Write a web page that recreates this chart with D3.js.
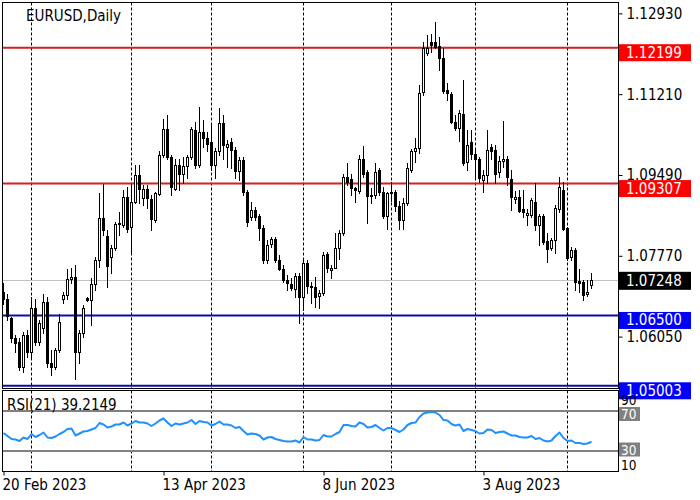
<!DOCTYPE html>
<html><head><meta charset="utf-8">
<script src="https://cdn.jsdelivr.net/npm/d3@7"></script>
<style>
body{margin:0;background:#fff}
svg{display:block}
text{font-family:"DejaVu Sans Condensed","DejaVu Sans",sans-serif;font-size:15px}
text.small{font-size:13.5px}
</style>
</head><body>
<svg id="c" width="700" height="500"></svg>
<script>
const chartTitle = "EURUSD,Daily";
const rsiTitle = "RSI(21) 39.2149";

const opens = [
1.0700,1.0686,1.0644,1.0603,1.0594,1.0541,1.0608,1.0573,1.0665,1.0594,
1.0623,1.0678,1.0548,1.0541,1.0576,1.0684,1.0693,1.0727,1.0731,1.0573,
1.0612,1.0687,1.0682,1.0718,1.0767,1.0858,1.0820,1.0774,1.0794,1.0844,
1.0843,1.0903,1.0839,1.0891,1.0949,1.0901,1.0919,1.0898,1.0853,1.0909,
1.0992,1.1046,1.0988,1.0920,1.0970,1.0952,1.0968,1.0988,1.1045,1.0970,
1.1041,1.1027,1.1020,1.0970,1.0999,1.1059,1.1009,1.1020,1.1002,1.0957,
1.0981,1.0913,1.0859,1.0874,1.0862,1.0837,1.0769,1.0803,1.0812,1.0769,
1.0748,1.0725,1.0718,1.0706,1.0734,1.0690,1.0761,1.0713,1.0711,1.0691,
1.0697,1.0781,1.0747,1.0752,1.0793,1.0825,1.0944,1.0940,1.0921,1.0914,
1.0984,1.0956,1.0904,1.0906,1.0960,1.0913,1.0862,1.0910,1.0912,1.0882,
1.0853,1.0890,1.0960,1.0999,1.1006,1.1126,1.1208,1.1233,1.1233,1.1224,
1.1199,1.1130,1.1121,1.1062,1.1050,1.1079,1.0977,1.1020,1.0993,1.0983,
1.0938,1.0949,1.1009,1.1002,1.0955,1.0978,1.0982,1.0940,1.0897,1.0903,
1.0876,1.0864,1.0864,1.0892,1.0843,1.0862,1.0808,1.0793,1.0811,1.0876,
1.0918,1.0837,1.0775,1.0789,1.0724,1.0722,1.0696,1.0715];

const highs = [
1.0720,1.0695,1.0647,1.0608,1.0601,1.0615,1.0619,1.0690,1.0686,1.0640,
1.0696,1.0690,1.0576,1.0580,1.0654,1.0700,1.0748,1.0750,1.0757,1.0619,
1.0672,1.0690,1.0729,1.0774,1.0911,1.0930,1.0832,1.0800,1.0849,1.0871,
1.0917,1.0924,1.0928,1.0970,1.0970,1.0927,1.0927,1.0906,1.0913,1.1000,
1.1068,1.1077,1.0991,1.0984,1.0984,1.0988,1.0991,1.1052,1.1062,1.1094,
1.1066,1.1041,1.1055,1.1006,1.1091,1.1077,1.1023,1.1027,1.1009,1.0988,
1.0988,1.0917,1.0892,1.0881,1.0867,1.0842,1.0810,1.0816,1.0817,1.0778,
1.0757,1.0736,1.0729,1.0740,1.0740,1.0768,1.0768,1.0721,1.0732,1.0704,
1.0786,1.0786,1.0757,1.0825,1.0832,1.0952,1.0974,1.0952,1.0924,1.0991,
1.1011,1.0960,1.0921,1.0975,1.0963,1.0924,1.0913,1.0935,1.0918,1.0893,
1.0900,1.0975,1.1005,1.1027,1.1141,1.1233,1.1247,1.1250,1.1275,1.1243,
1.1219,1.1144,1.1126,1.1077,1.1087,1.1151,1.1045,1.1045,1.1002,1.0988,
1.0959,1.1045,1.1016,1.1013,1.0990,1.1064,1.0990,1.0960,1.0915,1.0917,
1.0917,1.0877,1.0899,1.0931,1.0867,1.0867,1.0825,1.0814,1.0885,1.0945,
1.0935,1.0839,1.0795,1.0793,1.0748,1.0725,1.0725,1.0740];

const lows = [
1.0675,1.0640,1.0594,1.0573,1.0534,1.0530,1.0562,1.0559,1.0587,1.0587,
1.0612,1.0541,1.0523,1.0535,1.0573,1.0677,1.0686,1.0719,1.0514,1.0548,
1.0605,1.0680,1.0630,1.0704,1.0754,1.0821,1.0711,1.0740,1.0789,1.0821,
1.0839,1.0828,1.0786,1.0889,1.0889,1.0885,1.0878,1.0832,1.0849,1.0907,
1.0988,1.0984,1.0906,1.0917,1.0917,1.0931,1.0942,1.0984,1.0963,1.0967,
1.1009,1.0999,1.0960,1.0942,1.0991,1.0984,1.0967,1.0963,1.0942,1.0938,
1.0906,1.0840,1.0853,1.0853,1.0810,1.0762,1.0761,1.0796,1.0764,1.0747,
1.0722,1.0704,1.0704,1.0690,1.0633,1.0661,1.0697,1.0676,1.0669,1.0665,
1.0693,1.0743,1.0729,1.0750,1.0771,1.0821,1.0928,1.0906,1.0892,1.0910,
1.0945,1.0846,1.0889,1.0899,1.0906,1.0857,1.0835,1.0893,1.0872,1.0833,
1.0835,1.0885,1.0956,1.0977,1.0995,1.1120,1.1204,1.1211,1.1219,1.1173,
1.1123,1.1109,1.1059,1.1045,1.1022,1.0970,1.0959,1.0984,1.0942,1.0935,
1.0913,1.0931,1.0984,1.0931,1.0945,1.0965,1.0928,1.0875,1.0890,1.0871,
1.0860,1.0843,1.0860,1.0832,1.0800,1.0803,1.0764,1.0789,1.0782,1.0871,
1.0832,1.0769,1.0768,1.0704,1.0701,1.0683,1.0691,1.0708];

const closes = [
1.0686,1.0648,1.0601,1.0592,1.0541,1.0608,1.0573,1.0665,1.0594,1.0633,
1.0678,1.0548,1.0541,1.0576,1.0637,1.0693,1.0727,1.0731,1.0573,1.0612,
1.0665,1.0682,1.0718,1.0767,1.0857,1.0832,1.0756,1.0793,1.0844,1.0846,
1.0903,1.0835,1.0891,1.0949,1.0920,1.0919,1.0899,1.0856,1.0910,1.0992,
1.1046,1.0988,1.0924,1.0970,1.0952,1.0968,1.0988,1.1046,1.0970,1.1041,
1.1027,1.1014,1.0970,1.0999,1.1059,1.1013,1.1016,1.1002,1.0957,1.0981,
1.0913,1.0848,1.0874,1.0859,1.0837,1.0769,1.0800,1.0812,1.0768,1.0748,
1.0725,1.0720,1.0708,1.0733,1.0690,1.0761,1.0712,1.0710,1.0690,1.0697,
1.0779,1.0750,1.0752,1.0793,1.0825,1.0944,1.0935,1.0921,1.0916,1.0984,
1.0952,1.0904,1.0906,1.0956,1.0913,1.0862,1.0910,1.0912,1.0882,1.0853,
1.0890,1.0963,1.0999,1.1006,1.1123,1.1219,1.1220,1.1226,1.1222,1.1197,
1.1128,1.1124,1.1062,1.1050,1.1080,1.0974,1.1013,1.0993,1.0983,1.0942,
1.0949,1.1002,1.1000,1.0952,1.0978,1.0982,1.0944,1.0903,1.0903,1.0873,
1.0870,1.0869,1.0896,1.0843,1.0862,1.0807,1.0791,1.0811,1.0878,1.0924,
1.0835,1.0772,1.0789,1.0722,1.0720,1.0693,1.0701,1.0725];

const rsiValues = [
48,45,42,41.5,40,43.5,42,47,44,46,
48.5,43.5,43,44.5,47,49,52,52.5,45.5,47.5,
49.5,50,51.5,53,58,56.5,53.5,54.5,56.5,56.5,
58.5,55.5,57.5,60,58.5,58.5,57.5,55,57.5,60.5,
62.5,58.5,55,57.5,56.5,57.5,58.5,61,57,60,
59,58.5,55.5,57,59.5,56.5,56.5,55.5,53,54,
50,46.5,47.5,47,45.5,41.5,43.5,44,42,41,
40,39.5,39.5,40.5,38.5,44,41.5,41.5,40.5,41,
46,44.5,44.5,47,49,56,56,55,54.5,58.5,
57,53.5,54,56,53,50.5,53,53,51,49,
51.5,56,58,58.5,64,67.5,68.5,69,68.5,66,
61,60.5,57,55.5,56.5,50,52,51,50,47.5,
48,51.5,51,48,49,49.5,47.5,45.5,45.5,44,
43.5,43.5,45,42,43,40.5,39.5,40.5,45,48.5,
43,40,40.5,38,38,37,37.5,39.2149];

const priceTicks = [1.12930, 1.11210, 1.09490, 1.07770, 1.06050];
const levelPrices = [1.12199, 1.09307, 1.06500, 1.05003];
const levelKinds = ["resistance", "resistance", "support", "support"];
const currentPrice = 1.07248;
const rsiLevels = [70, 30];
const rsiScaleLabels = [90, 10];
const timeLabels = ["20 Feb 2023", "13 Apr 2023", "8 Jun 2023", "3 Aug 2023"];
const timeLabelBars = [0, 40, 80, 120];
const monthStartBars = [7, 32, 52, 75, 97, 118, 141];

// ---- layout ----
const L = 2.5, R = 618.5, mainTop = 2.5, mainBot = 388.5, rsiTop = 390.5, rsiBot = 471.5;
const n = closes.length;
const svg = d3.select("#c");

const x = d3.scaleLinear().domain([0, n - 1]).range([3.5, 3.5 + 4 * (n - 1)]);
const y = d3.scaleLinear().domain([1.04956, 1.13172]).range([388, 2]);
const yr = d3.scaleLinear().domain([10, 90]).range([471, 391]);
const py = v => Math.round(y(v)) + 0.5;

const defs = svg.append("defs");
defs.append("clipPath").attr("id", "mainClip").append("rect")
  .attr("x", L).attr("y", mainTop).attr("width", R - L).attr("height", mainBot - mainTop);
defs.append("clipPath").attr("id", "rsiClip").append("rect")
  .attr("x", L).attr("y", rsiTop).attr("width", R - L).attr("height", rsiBot - rsiTop);

// grid (vertical dashed)
const grid = svg.append("g").attr("stroke", "#000").attr("stroke-width", 1).attr("stroke-dasharray", "3,2");
grid.selectAll("line.gm").data(monthStartBars).join("line").attr("class", "gm")
  .attr("x1", d => x(d)).attr("x2", d => x(d)).attr("y1", mainTop).attr("y2", mainBot);
grid.selectAll("line.gr").data(monthStartBars).join("line").attr("class", "gr")
  .attr("x1", d => x(d)).attr("x2", d => x(d)).attr("y1", rsiTop).attr("y2", rsiBot);

// main panel content
const main = svg.append("g").attr("clip-path", "url(#mainClip)");

main.append("line").attr("x1", L).attr("x2", R)
  .attr("y1", py(currentPrice)).attr("y2", py(currentPrice))
  .attr("stroke", "#c0c0c0").attr("stroke-width", 1);

const lineColor = k => k === "resistance" ? "#d42020" : "#0c0ca8";
const boxColor = k => k === "resistance" ? "#ff0000" : "#0000ff";
main.selectAll("line.level").data(levelPrices).join("line").attr("class", "level")
  .attr("x1", L).attr("x2", R)
  .attr("y1", d => y(d)).attr("y2", d => y(d))
  .attr("stroke", (d, i) => lineColor(levelKinds[i])).attr("stroke-width", 2);

// candles
const idx = d3.range(n);
const cg = main.append("g").attr("shape-rendering", "crispEdges");
cg.selectAll("line.wick").data(idx).join("line").attr("class", "wick")
  .attr("x1", i => x(i)).attr("x2", i => x(i))
  .attr("y1", i => py(highs[i]) - 0.5).attr("y2", i => py(lows[i]) + 0.5)
  .attr("stroke", "#000");
const bodyTop = i => py(Math.max(opens[i], closes[i]));
const bodyBot = i => py(Math.min(opens[i], closes[i]));
cg.selectAll("rect.body").data(idx.filter(i => bodyBot(i) > bodyTop(i))).join("rect").attr("class", "body")
  .attr("x", i => x(i) - 1).attr("width", 2)
  .attr("y", bodyTop).attr("height", i => bodyBot(i) - bodyTop(i))
  .attr("fill", i => closes[i] >= opens[i] ? "#fff" : "#000")
  .attr("stroke", "#000");
cg.selectAll("line.doji").data(idx.filter(i => bodyBot(i) <= bodyTop(i))).join("line").attr("class", "doji")
  .attr("x1", i => x(i) - 1.5).attr("x2", i => x(i) + 1.5)
  .attr("y1", bodyTop).attr("y2", bodyTop).attr("stroke", "#000");

// RSI panel content
const rg = svg.append("g").attr("clip-path", "url(#rsiClip)");
rg.selectAll("line.rl").data(rsiLevels).join("line").attr("class", "rl")
  .attr("x1", L).attr("x2", R).attr("y1", d => yr(d)).attr("y2", d => yr(d))
  .attr("stroke", "#808080").attr("stroke-width", 2);
rg.append("path").datum(rsiValues)
  .attr("d", d3.line().x((d, i) => x(i)).y(d => yr(d)))
  .attr("fill", "none").attr("stroke", "#1e90ff").attr("stroke-width", 2)
  .attr("stroke-linejoin", "round");

// borders
svg.append("rect").attr("x", L).attr("y", mainTop).attr("width", R - L).attr("height", mainBot - mainTop)
  .attr("fill", "none").attr("stroke", "#000");
svg.append("rect").attr("x", L).attr("y", rsiTop).attr("width", R - L).attr("height", rsiBot - rsiTop)
  .attr("fill", "none").attr("stroke", "#000");

// titles
svg.append("text").attr("x", 26).attr("y", 21).attr("fill", "#000").text(chartTitle);
svg.append("text").attr("x", 7).attr("y", 409.5).attr("fill", "#000").text(rsiTitle);

// price axis
const pAxis = svg.append("g").attr("transform", `translate(${R},0)`)
  .call(d3.axisRight(y).tickValues(priceTicks).tickFormat(d3.format(".5f")).tickSize(4).tickPadding(4));
pAxis.select(".domain").remove();
pAxis.selectAll("text").attr("font-family", null).attr("font-size", null).attr("fill", "#000")
  .attr("dy", null).attr("dominant-baseline", null).attr("y", 5);
pAxis.selectAll("line").attr("stroke", "#000");

// level labels
const lvl = svg.append("g");
levelPrices.forEach((p, i) => {
  const top = y(p) - 3.5;
  lvl.append("rect").attr("x", 619).attr("y", top).attr("width", 72).attr("height", 17)
    .attr("fill", boxColor(levelKinds[i]));
  lvl.append("text").attr("x", 626).attr("y", top + 13.5).attr("fill", "#fff").text(d3.format(".5f")(p));
});
{
  const yy = y(currentPrice);
  lvl.append("rect").attr("x", 619).attr("y", yy - 8.5).attr("width", 72).attr("height", 18).attr("fill", "#000");
  lvl.append("text").attr("x", 626).attr("y", yy + 6).attr("fill", "#fff").text(d3.format(".5f")(currentPrice));
}

// RSI scale labels
svg.selectAll("text.rsl").data(rsiScaleLabels).join("text").attr("class", "rsl small")
  .attr("x", 621).attr("y", d => d === 90 ? 404.5 : 469.5).attr("fill", "#000").text(d => d);
svg.selectAll("rect.rlb").data(rsiLevels).join("rect").attr("class", "rlb")
  .attr("x", 619).attr("width", 21).attr("height", 14)
  .attr("y", d => d === 70 ? 407 : 442.5).attr("fill", "#808080");
svg.selectAll("text.rlt").data(rsiLevels).join("text").attr("class", "rlt small")
  .attr("x", 621).attr("y", d => d === 70 ? 419 : 454.5).attr("fill", "#fff").text(d => d);

// time axis
const tAxis = svg.append("g").attr("transform", `translate(0,${rsiBot})`)
  .call(d3.axisBottom(x).tickValues(timeLabelBars).tickFormat((d, i) => timeLabels[i]).tickSize(4));
tAxis.select(".domain").remove();
tAxis.selectAll("line").attr("stroke", "#000");
tAxis.selectAll("text").attr("font-family", null).attr("font-size", null).attr("fill", "#000")
  .attr("text-anchor", "start").attr("dy", null).attr("y", 18.5).attr("x", -1.5);
</script>
</body></html>
